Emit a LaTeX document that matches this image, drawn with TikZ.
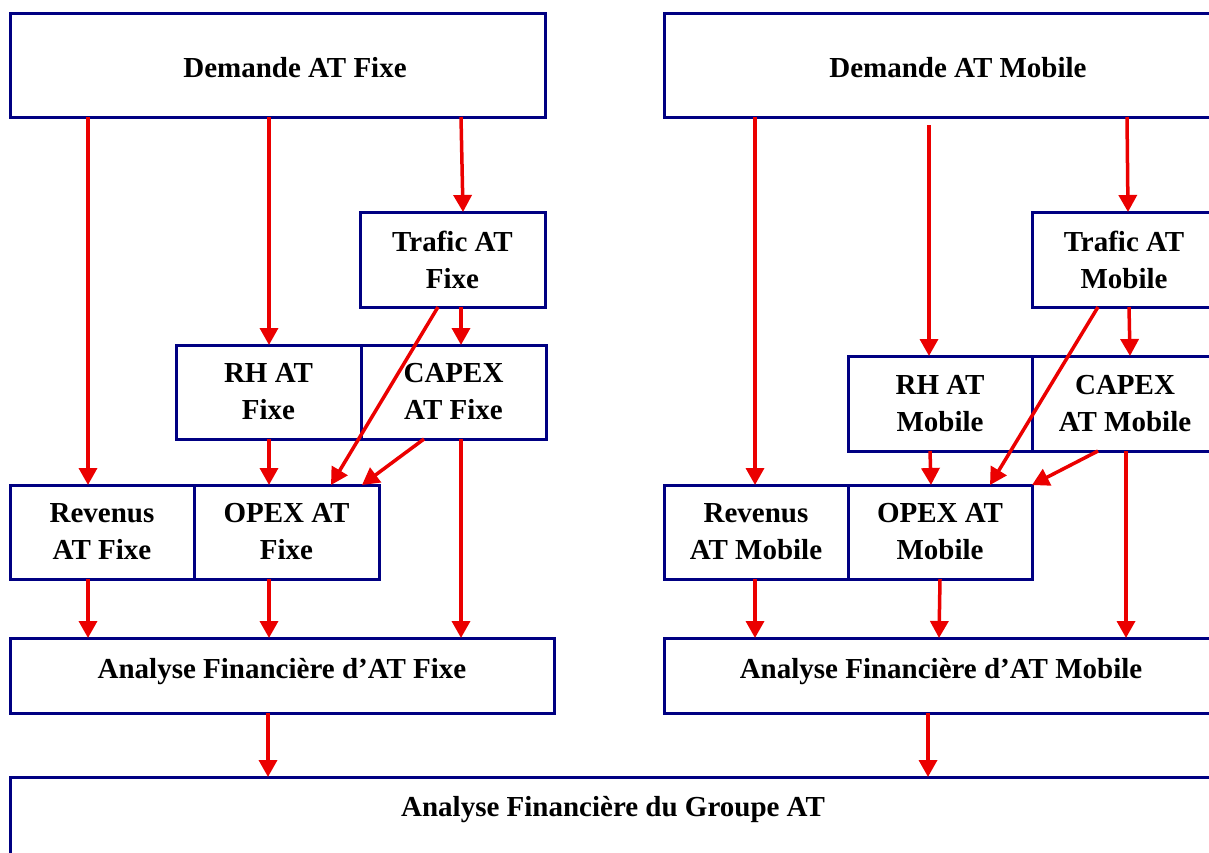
\documentclass[tikz,border=0pt]{standalone}
\usepackage{fontspec}
\setmainfont{Liberation Serif}
\usetikzlibrary{arrows.meta,calc}
\definecolor{boxblue}{RGB}{0,0,130}
\definecolor{arrred}{RGB}{235,0,0}
\tikzset{
  box/.style={draw=boxblue, line width=3pt, fill=white, inner sep=0pt, outer sep=0pt,
    anchor=north west, align=center, font=\fontsize{29}{37}\selectfont\bfseries},
  txt/.style={inner sep=0pt, align=center, font=\fontsize{29}{37}\selectfont\bfseries},
  arr/.style={draw=arrred, line width=3.5pt, -{Triangle[width=18pt,length=17pt]}}
}
\begin{document}
\begin{tikzpicture}[x=1pt,y=-1pt]
\useasboundingbox (0,0) rectangle (1209,852);
\clip (0,0) rectangle (1209,852);
% Fixe side
\node[box, minimum width=535pt, minimum height=104pt] (demF) at (10,13) {};
\node[txt] (demFt) at (295,68) {Demande AT Fixe};
\node[box, minimum width=185pt, minimum height=95pt] (traF) at (360,212) {Trafic AT\\Fixe};
\node[box, minimum width=185pt, minimum height=94pt] (rhF) at (176,345) {RH AT\\Fixe};
\node[box, minimum width=185pt, minimum height=94pt] (capF) at (361,345) {CAPEX\\AT Fixe};
\node[box, minimum width=184pt, minimum height=94pt] (revF) at (10,485) {Revenus\\AT Fixe};
\node[box, minimum width=185pt, minimum height=94pt] (opxF) at (194,485) {OPEX AT\\Fixe};
\node[box, minimum width=544pt, minimum height=75pt] (anaF) at (10,638) {};
\node[txt] (anaFt) at (282,672) {Analyse Financière d’AT Fixe};
% Mobile side
\node[box, minimum width=560pt, minimum height=104pt] (demM) at (664,13) {};
\node[txt] (demMt) at (958,68) {Demande AT Mobile};
\node[box, minimum width=190pt, minimum height=95pt] (traM) at (1032,212) {};
\node[txt] (traMt) at (1124,260) {Trafic AT\\Mobile};
\node[box, minimum width=184pt, minimum height=95pt] (rhM) at (848,356) {RH AT\\Mobile};
\node[box, minimum width=190pt, minimum height=95pt] (capM) at (1032,356) {};
\node[txt] (capMt) at (1125,404) {CAPEX\\AT Mobile};
\node[box, minimum width=184pt, minimum height=94pt] (revM) at (664,485) {Revenus\\AT Mobile};
\node[box, minimum width=184pt, minimum height=94pt] (opxM) at (848,485) {OPEX AT\\Mobile};
\node[box, minimum width=560pt, minimum height=75pt] (anaM) at (664,638) {};
\node[txt] (anaMt) at (941,672) {Analyse Financière d’AT Mobile};
% Groupe
\node[box, minimum width=1220pt, minimum height=140pt] (grp) at (10,777) {};
\node[txt] (grpt) at (613,810) {Analyse Financière du Groupe AT};
% coordinates
\coordinate (rhMtop) at (929,125);
% arrows Fixe
\draw[arr] (demF.south -| 88,0) -- (revF.north -| 88,0);
\draw[arr] (demF.south -| 269,0) -- (rhF.north -| 269,0);
\draw[arr] (demF.south -| 461,0) -- (traF.north -| 463,0);
\draw[arr] (traF.south -| 461,0) -- (capF.north -| 461,0);
\draw[arr] (traF.south -| 438,0) -- (opxF.north -| 331,0);
\draw[arr] (capF.south -| 424,0) -- (opxF.north -| 362,0);
\draw[arr] (rhF.south -| 269,0) -- (opxF.north -| 269,0);
\draw[arr] (capF.south -| 461,0) -- (anaF.north -| 461,0);
\draw[arr] (revF.south -| 88,0) -- (anaF.north -| 88,0);
\draw[arr] (opxF.south -| 269,0) -- (anaF.north -| 269,0);
\draw[arr] (anaF.south -| 268,0) -- (grp.north -| 268,0);
% arrows Mobile
\draw[arr] (demM.south -| 755,0) -- (revM.north -| 755,0);
\draw[arr] (rhMtop) -- (rhM.north -| 929,0);
\draw[arr] (demM.south -| 1127,0) -- (traM.north -| 1128,0);
\draw[arr] (traM.south -| 1129,0) -- (capM.north -| 1130,0);
\draw[arr] (traM.south -| 1098,0) -- (opxM.north -| 990,0);
\draw[arr] (capM.south -| 1098,0) -- (opxM.north east);
\draw[arr] (rhM.south -| 930,0) -- (opxM.north -| 931,0);
\draw[arr] (capM.south -| 1126,0) -- (anaM.north -| 1126,0);
\draw[arr] (revM.south -| 755,0) -- (anaM.north -| 755,0);
\draw[arr] (opxM.south -| 940,0) -- (anaM.north -| 939,0);
\draw[arr] (anaM.south -| 928,0) -- (grp.north -| 928,0);
\end{tikzpicture}
\end{document}
